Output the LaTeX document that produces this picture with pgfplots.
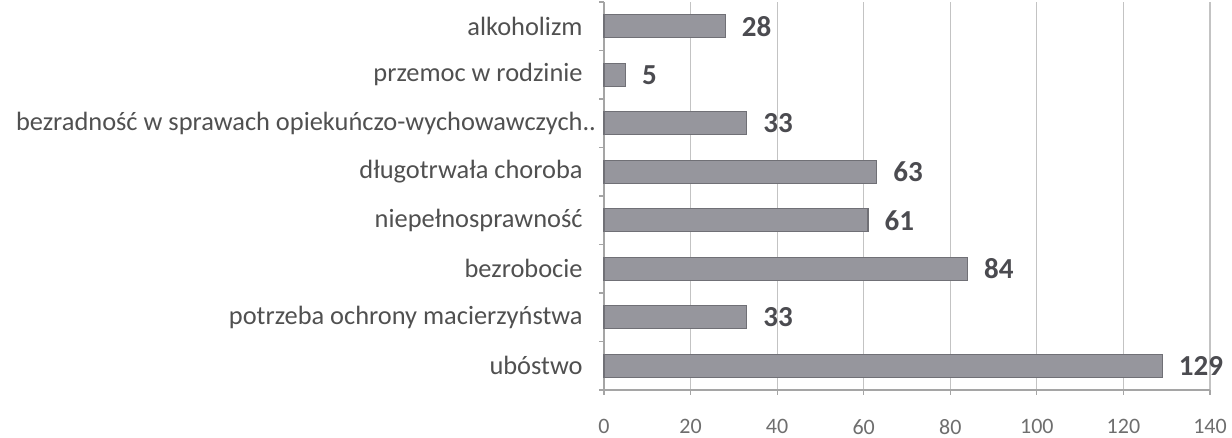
\documentclass[border=0pt]{standalone}
\usepackage{pgfplots}
\pgfplotsset{compat=1.18}
\usepackage{fontspec}
\setmainfont{Carlito}
\definecolor{barfill}{RGB}{150,150,157}
\definecolor{baredge}{RGB}{112,112,118}
\definecolor{labcol}{RGB}{80,80,80}
\definecolor{valcol}{RGB}{75,75,80}
\definecolor{tickcol}{RGB}{110,110,110}
\definecolor{gridcol}{RGB}{195,195,195}
\definecolor{axcol}{RGB}{165,165,165}
\begin{document}
\begin{tikzpicture}
\begin{axis}[
  at={(302pt,24pt)}, anchor=south west,
  scale only axis, width=303pt, height=194pt,
  xbar, bar width=11.5pt,
  xmin=0, xmax=140, ymin=-0.5, ymax=7.5,
  xtick={0,20,...,140},
  ytick={-0.5,0.5,...,7.5},
  yticklabels={},
  extra y ticks={0,1,2,3,4,5,6,7},
  extra y tick labels={ubóstwo, potrzeba ochrony macierzyństwa, bezrobocie, niepełnosprawność, długotrwała choroba, {bezradność w sprawach opiekuńczo-wychowawczych\rlap{..}}, przemoc w rodzinie, alkoholizm},
  extra y tick style={major tick length=0pt, yticklabel style={font=\fontsize{13.2}{15}\selectfont, text=labcol, anchor=east, inner sep=0pt, xshift=-10.5pt}},
  axis x line*=bottom, axis y line*=left,
  axis line style={draw=axcol, line width=0.6pt},
  tick align=outside, major tick length=2.5pt,
  tick style={draw=axcol, line width=0.6pt},
  xmajorgrids, grid style={draw=gridcol, line width=0.6pt},
  /pgf/number format/assume math mode=true,
  xticklabel style={font=\fontsize{11}{13}\selectfont, text=tickcol, anchor=north, inner sep=0pt, yshift=-12pt},
  nodes near coords,
  nodes near coords style={font=\fontsize{14.5}{16}\selectfont\bfseries, text=valcol, anchor=west, inner sep=0pt, xshift=8pt},
  clip=false,
]
\addplot[fill=barfill, draw=baredge, line width=0.6pt] coordinates {(129,0) (33,1) (84,2) (61,3) (63,4) (33,5) (5,6) (28,7)};
\end{axis}
\pgfresetboundingbox
\useasboundingbox (0,0) rectangle (616pt,219pt);
\end{tikzpicture}
\end{document}
